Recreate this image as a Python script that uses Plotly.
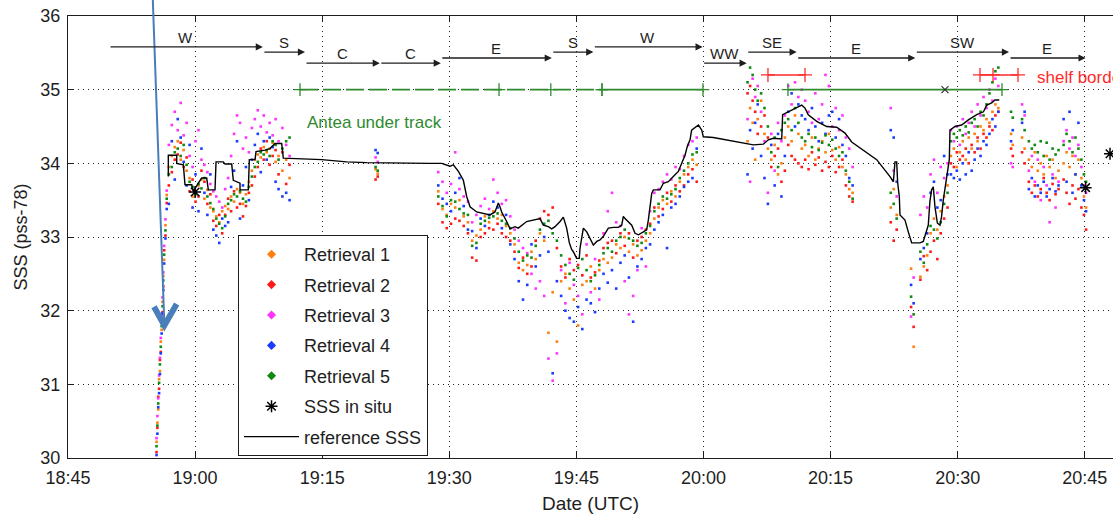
import pandas as pd
import plotly.graph_objects as go

# ---------------------------------------------------------------------------
# Time base: all times are minutes after 18:45 UTC
# ---------------------------------------------------------------------------
T0 = pd.Timestamp("2013-07-03 18:45:00")

# Retrieval sample times (minutes after 18:45)
t_ret = [
    10.45, 10.55, 10.65, 10.75, 10.85, 10.95, 11.05, 11.15, 11.25, 11.35, 11.5, 11.65,
    11.9, 12.25, 12.6, 12.95, 13.3, 13.65, 14.0, 14.35, 14.7, 15.05, 15.4, 15.75, 16.1, 16.45,
    16.8, 17.15, 17.5, 17.85, 18.2, 18.55, 18.9, 19.25, 19.6, 19.95, 20.3, 20.65, 21.0, 21.35,
    21.7, 22.05, 22.4, 22.75, 23.1, 23.45, 23.8, 24.15, 24.5, 24.85, 25.3, 25.75, 26.15,
    36.3, 36.55,
    43.7, 44.2, 44.7, 45.2, 45.7, 46.2, 46.7, 47.2, 47.7, 48.2, 48.7, 49.2, 49.7, 50.2, 50.7,
    51.2, 51.7, 52.2, 52.7, 53.2, 53.7, 54.2, 54.7, 55.2, 55.7, 56.2, 56.7, 57.2, 57.7, 58.2,
    58.7, 59.2, 59.7, 60.2, 60.7, 61.2, 61.7, 62.2, 62.7, 63.2, 63.7, 64.2, 64.7, 65.2, 65.7,
    66.2, 66.7, 67.2, 67.7, 68.2, 68.7, 69.2, 69.7, 70.2, 70.7, 71.2, 71.7, 72.2, 72.7, 73.2,
    73.7, 74.2,
    80.2, 80.5, 80.8, 81.1, 81.4, 81.8, 82.2, 82.6, 83.0, 83.4, 83.8, 84.2, 84.6, 85.0, 85.4,
    85.8, 86.2, 86.6,
    87.0, 87.4, 87.8, 88.2, 88.6, 89.0, 89.4, 89.8, 90.2, 90.6, 91.0, 91.4, 91.8, 92.2, 92.6,
    97.1, 97.45, 97.8,
    99.5, 99.8, 100.6, 101.0, 101.4, 101.8, 102.2, 102.6, 103.0, 103.4, 103.8,
    104.2, 104.55, 104.9, 105.25, 105.6, 105.95, 106.3, 106.65, 107.0, 107.35, 107.7, 108.05,
    108.4, 108.75, 109.1, 109.45, 109.8,
    111.3, 111.5, 112.6, 112.9,
    113.4, 113.75, 114.1, 114.45, 114.8, 115.15, 115.5, 115.85, 116.2, 116.55, 116.9, 117.5,
    117.85, 118.2, 118.55, 118.9, 119.25, 119.6, 119.9, 120.15,
]

retrieval_1 = [
    30.22, 30.48, 30.66, 31.07, 31.18, 31.58, 31.74, 32.12, 32.47, 32.69, 33.16, 33.57,
    33.95, 34.10, 34.22, 34.30, 34.05, 34.18, 33.90, 33.80, 33.55, 33.62, 33.70, 33.78, 33.52, 33.64,
    33.40, 33.35, 33.28, 33.20, 33.35, 33.42, 33.38, 33.55, 33.48, 33.65, 33.60, 33.45, 33.58, 33.75,
    33.90, 34.05, 34.12, 34.08, 34.22, 34.15, 34.20, 34.28, 34.02, 34.10, 33.90, 34.05, 33.80,
    33.92, 33.86,
    33.62, 33.38, 33.30, 33.45, 33.40, 33.50, 33.28, 33.20, 32.95, 33.02, 33.10, 33.28, 33.20, 33.35, 33.25,
    33.30, 33.15, 33.05, 32.90, 32.65, 32.55, 32.62, 32.80, 32.70, 33.05, 32.95, 31.70, 32.25, 31.58, 32.40,
    32.50, 32.30, 32.15, 31.80, 32.35, 32.40, 32.60, 32.30, 32.55, 32.70, 32.65, 32.72, 32.90, 32.85, 33.00,
    32.80, 32.90, 32.75, 32.82, 32.95, 33.05, 33.25, 33.40, 33.50, 33.45, 33.62, 33.55, 33.75, 33.85, 33.95,
    34.05, 33.98,
    34.30, 34.75, 34.55, 34.05, 34.60, 34.85, 34.40, 34.20, 34.05, 34.25, 33.85, 34.00, 34.35, 34.50, 34.30,
    34.65, 34.40, 34.20,
    34.25, 34.10, 34.35, 34.05, 34.20, 34.30, 34.15, 34.40, 34.18, 34.05, 34.22, 33.95, 33.85, 33.65, 33.60,
    33.40, 33.65, 33.30,
    32.57, 31.51, 32.46, 32.60, 32.75, 33.05, 33.25, 33.10, 33.35, 33.55, 33.70,
    34.10, 34.20, 33.95, 34.15, 34.30, 34.05, 34.35, 34.20, 34.40, 34.30, 34.50, 34.45,
    34.60, 34.55, 34.70, 34.80, 34.75,
    34.40, 34.25, 34.35, 34.20,
    34.05, 33.95, 34.15, 33.90, 34.00, 33.85, 34.10, 33.95, 34.05, 33.80, 33.90, 34.00,
    34.15, 33.95, 34.10, 33.85, 34.05, 33.80, 33.55, 33.40,
]

retrieval_2 = [
    30.08, 30.41, 30.83, 30.94, 31.33, 31.44, 31.88, 31.98, 32.33, 32.82, 33.02, 33.46,
    33.70, 33.88, 34.05, 34.12, 34.28, 33.95, 34.08, 33.62, 33.78, 33.48, 33.55, 33.90, 33.75, 33.45,
    33.58, 33.22, 33.15, 33.30, 33.05, 33.30, 33.52, 33.35, 33.62, 33.40, 33.45, 33.28, 33.42, 33.60,
    33.70, 33.82, 33.95, 34.20, 34.05, 34.30, 33.98, 34.10, 34.18, 33.85, 34.15, 33.72, 33.98,
    33.78, 33.82,
    33.45, 33.20, 33.12, 33.18, 33.25, 33.22, 33.15, 33.05, 32.72, 32.68, 33.00, 33.05, 33.12, 33.10, 33.18,
    33.05, 33.00, 32.95, 32.80, 32.58, 32.72, 32.50, 32.60, 32.95, 33.25, 33.35, 33.30, 33.40, 32.85, 32.60,
    32.45, 32.70, 32.55, 32.62, 32.48, 32.75, 32.45, 32.52, 32.68, 32.85, 32.92, 32.95, 32.78, 33.05, 32.88,
    33.05, 32.72, 32.95, 33.00, 33.10, 33.18, 33.40, 33.28, 33.38, 33.60, 33.48, 33.70, 33.62, 33.70, 33.85,
    33.92, 33.75,
    34.95, 35.05, 34.85, 34.70, 34.40, 34.50, 34.65, 34.35, 33.95, 34.10, 34.20, 33.75, 33.90, 34.25, 34.10,
    34.05, 34.00, 33.95,
    34.05, 33.92, 34.15, 33.98, 34.08, 33.90, 34.02, 33.95, 34.10, 33.88, 33.95, 34.05, 33.70, 33.55, 33.48,
    33.20, 32.95, 33.10,
    32.05, 31.78, 32.42, 32.74, 32.55, 32.80, 32.95, 32.70, 33.05, 33.25, 33.40,
    34.00, 33.95, 34.15, 34.05, 34.10, 34.20, 34.00, 34.25, 34.15, 34.35, 34.20, 34.40,
    34.35, 34.50, 34.45, 34.65, 34.70,
    34.20, 34.10, 34.15, 34.00,
    33.75, 33.60, 33.70, 33.55, 33.65, 33.80, 33.60, 33.50, 33.72, 33.58, 33.65, 33.78,
    33.60, 33.45, 33.70, 33.52, 33.65, 33.40, 33.30, 33.10,
]

retrieval_3 = [
    30.27, 30.57, 30.81, 31.12, 31.36, 31.63, 31.93, 32.18, 32.52, 32.88, 33.24, 33.63,
    34.25, 34.52, 34.70, 34.45, 34.82, 34.38, 34.55, 34.10, 33.95, 34.30, 34.45, 34.05, 33.98, 33.88,
    33.72, 33.62, 33.55, 33.48, 33.40, 33.65, 33.80, 34.10, 34.40, 34.65, 34.55, 34.20, 34.35, 34.15,
    34.48, 34.60, 34.72, 34.50, 34.65, 34.42, 34.55, 34.38, 34.60, 34.30, 34.48, 34.25, 34.10,
    34.08, 34.02,
    33.88, 33.75, 33.60, 33.72, 34.15, 33.65, 33.55, 33.48, 33.20, 33.30, 33.42, 33.52, 33.38, 33.78, 33.60,
    33.45, 33.50, 33.28, 33.10, 32.95, 32.85, 32.78, 32.50, 32.30, 32.40, 32.20, 31.35, 31.05, 31.42, 32.55,
    32.10, 32.65, 32.35, 32.20, 31.95, 32.90, 32.25, 32.70, 32.15, 33.05, 33.35, 33.60, 33.20, 33.15, 32.40,
    31.95, 32.20, 32.55, 33.12, 32.60, 33.35, 33.60, 33.65, 33.75, 33.85, 33.78, 33.95, 33.92, 34.10, 34.25,
    34.30, 34.35,
    34.60, 33.75, 35.15, 34.90, 35.05, 34.70, 34.30, 33.60, 34.40, 33.90, 34.55, 34.30, 34.65, 35.05, 34.80,
    35.10, 34.90, 35.00,
    34.85, 34.70, 34.55, 34.95, 34.60, 34.80, 35.20, 35.05, 34.50, 34.75, 34.45, 34.65, 34.35, 34.20, 33.95,
    34.75, 33.90, 33.55,
    31.92, 32.45, 33.30, 33.55, 33.40, 33.85, 34.05, 33.60, 33.95, 33.80, 34.00,
    34.45, 34.30, 34.50, 34.25, 34.60, 34.40, 34.55, 34.70, 34.50, 34.80, 34.65, 34.90,
    34.75, 35.00, 34.85, 35.15, 35.05,
    34.00, 33.95, 34.80, 34.65,
    33.90, 34.10, 33.75, 34.05, 33.50, 33.95, 33.70, 33.20, 33.85, 33.40, 33.75, 34.30,
    34.45, 34.20, 34.35, 34.10, 34.25, 33.95, 33.70, 33.60,
]

retrieval_4 = [
    30.04, 30.33, 30.69, 30.88, 31.14, 31.42, 31.69, 31.96, 32.28, 32.64, 32.98, 33.38,
    33.45, 34.30, 33.78, 34.60, 34.35, 34.02, 33.70, 34.25, 33.40, 33.85, 33.35, 34.20, 33.60, 33.30,
    33.85, 33.10, 33.02, 32.92, 33.25, 33.15, 33.20, 33.68, 33.90, 34.30, 33.25, 33.70, 33.95, 33.50,
    34.05, 34.25, 34.40, 33.88, 34.30, 34.05, 34.35, 34.22, 33.75, 33.65, 33.55, 33.60, 33.50,
    34.18, 34.14,
    33.70, 33.52, 33.45, 33.35, 33.60, 33.80, 33.42, 33.10, 33.08, 32.85, 33.25, 33.15, 33.30, 33.48, 33.40,
    33.12, 33.30, 32.90, 32.70, 32.40, 32.15, 32.35, 32.90, 32.60, 32.75, 33.00, 32.80, 31.15, 32.40, 32.20,
    32.00, 31.90, 31.85, 32.05, 31.75, 32.15, 32.10, 31.98, 32.30, 32.50, 32.38, 32.55, 32.30, 32.65, 32.75,
    32.45, 31.85, 32.60, 32.70, 32.85, 32.90, 33.10, 33.20, 33.30, 32.85, 33.40, 33.45, 33.55, 33.68, 33.75,
    33.80, 34.20,
    33.85, 34.45, 34.20, 34.55, 34.80, 34.10, 33.80, 33.45, 34.25, 33.70, 34.40, 33.55, 34.10, 34.70, 34.95,
    34.50, 34.80, 34.65,
    34.60, 34.45, 34.75, 34.50, 34.30, 34.55, 34.40, 34.65, 34.70, 34.35, 34.60, 34.25, 34.10, 33.80, 33.70,
    34.45, 34.35, 33.75,
    32.35, 32.10, 32.70, 32.85, 33.05, 33.60, 33.75, 33.40, 33.50, 34.10, 33.85,
    33.85, 33.80, 33.90, 33.78, 34.00, 33.85, 34.15, 33.90, 34.05, 34.20, 34.10, 34.30,
    34.25, 34.40, 34.60, 34.50, 34.70,
    34.30, 34.45, 34.55, 34.70,
    33.65, 33.80, 33.55, 33.70, 33.60, 33.75, 33.55, 33.65, 33.80, 33.62, 33.70, 34.60,
    33.75, 34.70, 33.60, 33.85, 34.55, 33.70, 33.50, 33.35,
]

retrieval_5 = [
    30.16, 30.44, 30.74, 31.02, 31.27, 31.51, 31.79, 32.06, 32.41, 32.76, 33.09, 33.52,
    33.85, 33.95, 34.15, 34.20, 34.10, 34.25, 33.98, 33.75, 33.68, 33.58, 33.72, 33.66, 33.80, 33.55,
    33.46, 33.38, 33.25, 33.18, 33.12, 33.28, 33.45, 33.50, 33.58, 33.55, 33.62, 33.52, 33.48, 33.68,
    33.82, 33.95, 34.02, 34.15, 34.12, 34.18, 34.10, 34.30, 34.25, 34.05, 34.20, 34.30, 34.35,
    33.95, 33.90,
    33.55, 33.42, 33.28, 33.50, 33.48, 33.38, 33.32, 33.30, 32.88, 32.92, 33.18, 33.22, 33.26, 33.28, 33.32,
    33.22, 33.18, 33.12, 32.98, 32.80, 32.68, 32.75, 32.72, 32.88, 33.10, 33.18, 33.22, 33.05, 32.95, 32.75,
    32.62, 32.50, 32.42, 32.58, 32.70, 32.55, 32.40, 32.48, 32.62, 32.78, 32.85, 32.80, 32.95, 33.00, 33.10,
    32.98, 32.95, 32.88, 32.92, 33.05, 33.15, 33.35, 33.45, 33.55, 33.52, 33.58, 33.65, 33.80, 33.90, 34.00,
    34.12, 34.15,
    35.10, 35.30, 35.20, 35.00, 34.85, 34.95, 34.75, 34.50, 34.15, 34.35, 33.95, 34.45, 34.55, 34.60, 34.45,
    34.75, 34.55, 34.35,
    34.30, 34.40, 34.22, 34.35, 34.18, 34.28, 34.38, 34.25, 34.32, 34.20, 34.10, 34.15, 33.90, 33.75, 33.52,
    33.60, 33.45, 33.25,
    32.19, 31.95, 32.80, 32.65, 32.90, 33.15, 33.10, 32.98, 33.20, 33.45, 33.60,
    34.30, 34.40, 34.35, 34.45, 34.38, 34.50, 34.42, 34.55, 34.60, 34.50, 34.70, 34.65,
    34.80, 34.95, 35.10, 35.25, 35.30,
    34.70, 34.62, 34.60, 34.45,
    34.30, 34.20, 34.25, 34.15, 34.30, 34.10, 34.28, 34.05, 34.20, 34.12, 34.18, 34.25,
    34.40, 34.30, 34.15, 34.35, 34.20, 34.05, 33.85, 33.75,
]

# Reference SSS along the track
ref_t = [
    11.84, 11.84, 12.83, 12.83, 13.61, 13.81, 14.60, 14.79, 15.38, 15.78, 16.37, 16.56, 17.35,
    17.47, 18.33, 18.53, 19.32, 19.51, 20.30, 20.30, 21.28, 21.40, 22.07, 22.19, 23.25, 23.84,
    24.43, 25.22, 25.41, 27.38, 29.94, 32.89, 35.25, 42.72, 44.10, 45.08, 45.48, 46.07, 46.66,
    47.05, 47.45, 48.23, 49.21, 49.80, 50.39, 50.59, 50.79, 50.98, 51.18, 51.77, 52.17, 52.75,
    53.14, 54.13, 54.92, 55.71, 56.10, 56.69, 57.08, 57.48, 58.07, 58.46, 58.85, 59.17, 59.44,
    59.64, 60.03, 60.34, 60.43, 60.63, 60.82, 61.22, 61.61, 62.00, 62.40, 62.79, 63.18, 63.77,
    64.36, 64.95, 65.35, 65.54, 65.74, 66.13, 66.53, 66.92, 67.32, 67.91, 68.30, 68.49, 68.69,
    68.89, 69.08, 69.87, 70.26, 70.85, 71.44, 72.03, 72.43, 72.82, 73.09, 73.41, 73.60, 74.00,
    74.40, 74.80, 74.98, 76.16, 78.13, 80.10, 80.88, 82.06, 82.65, 83.24, 84.23, 84.34, 85.01,
    85.80, 86.59, 86.98, 87.37, 88.36, 89.54, 90.72, 91.70, 92.49, 93.87, 95.44, 97.01, 97.41,
    97.60, 97.80, 97.92, 98.11, 98.19, 98.78, 99.17, 99.57, 100.55, 100.94, 101.53, 101.72,
    101.92, 102.12, 102.32, 102.60, 102.91, 103.10, 103.30, 103.69, 104.01, 104.09, 104.68,
    105.47, 106.26, 107.25, 108.04, 108.43, 109.01, 109.40, 109.91,
]
ref_v = [
    33.82, 34.11, 34.11, 34.00, 33.98, 33.71, 33.71, 33.62, 33.73, 33.80, 33.80, 33.64, 33.64,
    34.02, 34.02, 33.99, 33.99, 33.77, 33.73, 33.64, 33.64, 34.05, 34.05, 34.16, 34.18, 34.20,
    34.27, 34.27, 34.07, 34.06, 34.05, 34.02, 34.01, 34.00, 34.00, 33.96, 33.98, 33.89, 33.77,
    33.55, 33.41, 33.34, 33.32, 33.30, 33.34, 33.39, 33.46, 33.41, 33.34, 33.21, 33.11, 33.14,
    33.12, 33.21, 33.23, 33.25, 33.16, 33.14, 33.11, 33.14, 33.21, 33.27, 33.12, 32.92, 32.83,
    32.80, 32.71, 32.71, 32.85, 33.01, 33.12, 33.07, 32.98, 32.89, 32.94, 32.96, 33.01, 33.12,
    33.13, 33.13, 33.16, 33.28, 33.25, 33.21, 33.16, 33.05, 33.03, 33.07, 33.10, 33.23, 33.41,
    33.59, 33.64, 33.64, 33.73, 33.75, 33.82, 33.89, 34.00, 34.11, 34.23, 34.32, 34.45, 34.48,
    34.52, 34.45, 34.36, 34.35, 34.31, 34.26, 34.25, 34.26, 34.32, 34.34, 34.33, 34.66, 34.70,
    34.75, 34.79, 34.75, 34.66, 34.57, 34.50, 34.49, 34.41, 34.29, 34.18, 34.05, 33.82, 33.75,
    34.02, 34.02, 33.73, 33.55, 33.30, 33.23, 33.07, 32.92, 32.92, 32.94, 33.16, 33.48,
    33.64, 33.68, 33.41, 33.19, 33.16, 33.28, 33.50, 33.82, 34.05, 34.45, 34.50,
    34.52, 34.59, 34.66, 34.70, 34.79, 34.82, 34.86, 34.86,
]

# In situ salinity
insitu_t = [15.0, 120.1, 122.98]
insitu_v = [33.61, 33.67, 34.13]

# Ship headings along the track
track_start = [4.84, 23.0, 27.97, 36.8, 44.0, 57.1, 62.0, 74.9, 80.1, 86.0, 100.0, 111.06]
track_end = [23.0, 27.97, 36.8, 44.0, 57.1, 62.0, 74.9, 80.1, 86.0, 100.0, 111.06, 120.1]
track_level = [35.58, 35.51, 35.36, 35.36, 35.43, 35.51, 35.58, 35.36, 35.51, 35.43, 35.51, 35.43]
track_heading = ["W", "S", "C", "C", "E", "S", "W", "WW", "SE", "E", "SW", "E"]

# Antea under-track periods and shelf border crossings
antea_dashed_t = [27.38, 50.87, 56.98, 63.02]
antea_solid_a_t = [63.02, 74.94]
antea_solid_b_t = [84.97, 110.23]
antea_cross_t = [103.5]
antea_level = 35.0
shelf_a_t = [82.61, 86.98]
shelf_b_t = [107.63, 109.17, 112.12]
shelf_level = 35.2


def at(minutes):
    return [(T0 + pd.Timedelta(minutes=float(m))).strftime("%Y-%m-%d %H:%M:%S.%f")[:-3]
            for m in minutes]


FONT = "Liberation Sans, Arial, Helvetica, sans-serif"
INK = "#1e1e1e"
GREEN = "#2f8a2f"
RED = "#ff2a2a"

names = ["Retrieval 1", "Retrieval 2", "Retrieval 3", "Retrieval 4", "Retrieval 5"]
colors = ["#ff7f0e", "#ff1a1a", "#ff33ff", "#1a3cff", "#108a10"]
series = [retrieval_1, retrieval_2, retrieval_3, retrieval_4, retrieval_5]
STAR = dict(symbol="asterisk-open", size=10, color="black", line=dict(color="black", width=1.5))

fig = go.Figure()

# Legend keys, added first so the legend lists them in this order
for i, (name, col) in enumerate(zip(names, colors)):
    fig.add_trace(go.Scatter(
        x=[None], y=[None], mode="markers", name=name,
        marker=dict(symbol="diamond", size=7, color=col), legendgroup=f"g{i + 1}"))
fig.add_trace(go.Scatter(
    x=[None], y=[None], mode="markers", name="SSS in situ", marker=STAR, legendgroup="g6"))

x_ret = at(t_ret)
for name, col, vals in zip(names, colors, series):
    fig.add_trace(go.Scatter(
        x=x_ret, y=vals, mode="markers", name=name, showlegend=False,
        marker=dict(symbol="square", size=2.6, color=col, line=dict(width=0)),
        hoverinfo="skip"))

# Antea under track
fig.add_trace(go.Scatter(
    x=at(antea_dashed_t), y=[antea_level] * len(antea_dashed_t), mode="lines+markers",
    line=dict(color=GREEN, width=1.6, dash="18px,5px"),
    marker=dict(symbol="cross-thin-open", size=9, color=GREEN, line=dict(color=GREEN, width=1.3)),
    showlegend=False, hoverinfo="skip"))
for seg in (antea_solid_a_t, antea_solid_b_t):
    fig.add_trace(go.Scatter(
        x=at(seg), y=[antea_level] * len(seg), mode="lines+markers",
        line=dict(color=GREEN, width=1.6),
        marker=dict(symbol="cross-thin-open", size=9, color=GREEN, line=dict(color=GREEN, width=1.3)),
        showlegend=False, hoverinfo="skip"))
fig.add_trace(go.Scatter(
    x=at(antea_cross_t), y=[antea_level], mode="markers",
    marker=dict(symbol="x-thin-open", size=7, color="#333333", line=dict(color="#333333", width=1.2)),
    showlegend=False, hoverinfo="skip"))

# Shelf border crossings
for seg in (shelf_a_t, shelf_b_t):
    fig.add_trace(go.Scatter(
        x=at(seg), y=[shelf_level] * len(seg), mode="lines+markers",
        line=dict(color=RED, width=1.6),
        marker=dict(symbol="cross-thin-open", size=10, color=RED, line=dict(color=RED, width=1.3)),
        showlegend=False, hoverinfo="skip"))

# Reference SSS, then the in situ samples on top
fig.add_trace(go.Scatter(
    x=at(ref_t), y=ref_v, mode="lines", name="reference SSS",
    line=dict(color="black", width=1.4), legendgroup="g7"))
fig.add_trace(go.Scatter(
    x=at(insitu_t), y=insitu_v, mode="markers", name="SSS in situ",
    marker=STAR, legendgroup="g6", showlegend=False))

annotations = []
for s, e, lvl, h in zip(track_start, track_end, track_level, track_heading):
    xs, xe = at([s, e])
    annotations.append(dict(
        x=xe, y=lvl, ax=xs, ay=lvl, xref="x", yref="y", axref="x", ayref="y",
        text="", showarrow=True, arrowhead=2, arrowsize=1.1, arrowwidth=1.3,
        arrowcolor=INK, standoff=0))
    annotations.append(dict(
        x=at([(s + e) / 2])[0], y=lvl, xref="x", yref="y", text=h, showarrow=False,
        yanchor="bottom", yshift=-1, font=dict(family=FONT, size=15, color=INK)))

annotations.append(dict(
    x=at([27.97])[0], y=34.56, xref="x", yref="y", text="Antea under track",
    showarrow=False, xanchor="left", yanchor="middle",
    font=dict(family=FONT, size=17, color=GREEN)))
annotations.append(dict(
    x=at([114.1])[0], y=35.17, xref="x", yref="y", text="shelf border",
    showarrow=False, xanchor="left", yanchor="middle",
    font=dict(family=FONT, size=17, color=RED)))

# Hand-drawn pointer towards the low-salinity stream
BLUE = "#4a7ebb"
shapes = [
    dict(type="line", xref="paper", yref="paper", x0=0.0811, y0=1.04, x1=0.0922, y1=0.303,
         line=dict(color=BLUE, width=2), layer="above"),
    dict(type="path", xref="paper", yref="paper",
         path="M 0.0823,0.3423 L 0.0922,0.3000 L 0.1040,0.3484",
         line=dict(color=BLUE, width=6), layer="above"),
]

fig.update_layout(
    width=1113, height=515,
    margin=dict(l=68, r=0, t=16, b=57, pad=0),
    paper_bgcolor="white", plot_bgcolor="white",
    font=dict(family=FONT, size=18, color=INK),
    annotations=annotations, shapes=shapes,
    legend=dict(x=0.1627, y=0.5045, xanchor="left", yanchor="top",
                bgcolor="white", bordercolor=INK, borderwidth=1,
                font=dict(family=FONT, size=18, color=INK),
                itemwidth=55, tracegroupgap=4, traceorder="grouped"),
    hovermode=False,
)
fig.update_xaxes(
    type="date", range=at([0, 123.33]), tickformat="%H:%M", dtick=900000,
    tick0=at([0])[0], ticks="inside", ticklen=6, tickcolor=INK, tickwidth=1,
    showline=True, linecolor=INK, linewidth=1, mirror="ticks",
    showgrid=True, gridcolor="#222222", gridwidth=1, griddash="1px,4px",
    zeroline=False, ticklabelstandoff=3,
    title=dict(text="Date (UTC)", standoff=10, font=dict(size=19)),
    tickfont=dict(family=FONT, size=18, color=INK))
fig.update_yaxes(
    range=[30, 36], dtick=1, ticks="inside", ticklen=6, tickcolor=INK, tickwidth=1,
    showline=True, linecolor=INK, linewidth=1, mirror=False,
    showgrid=True, gridcolor="#222222", gridwidth=1, griddash="1px,4px",
    zeroline=False, ticklabelstandoff=3,
    title=dict(text="SSS (pss-78)", standoff=8, font=dict(size=18)),
    tickfont=dict(family=FONT, size=18, color=INK))

fig.write_html("out.html")
